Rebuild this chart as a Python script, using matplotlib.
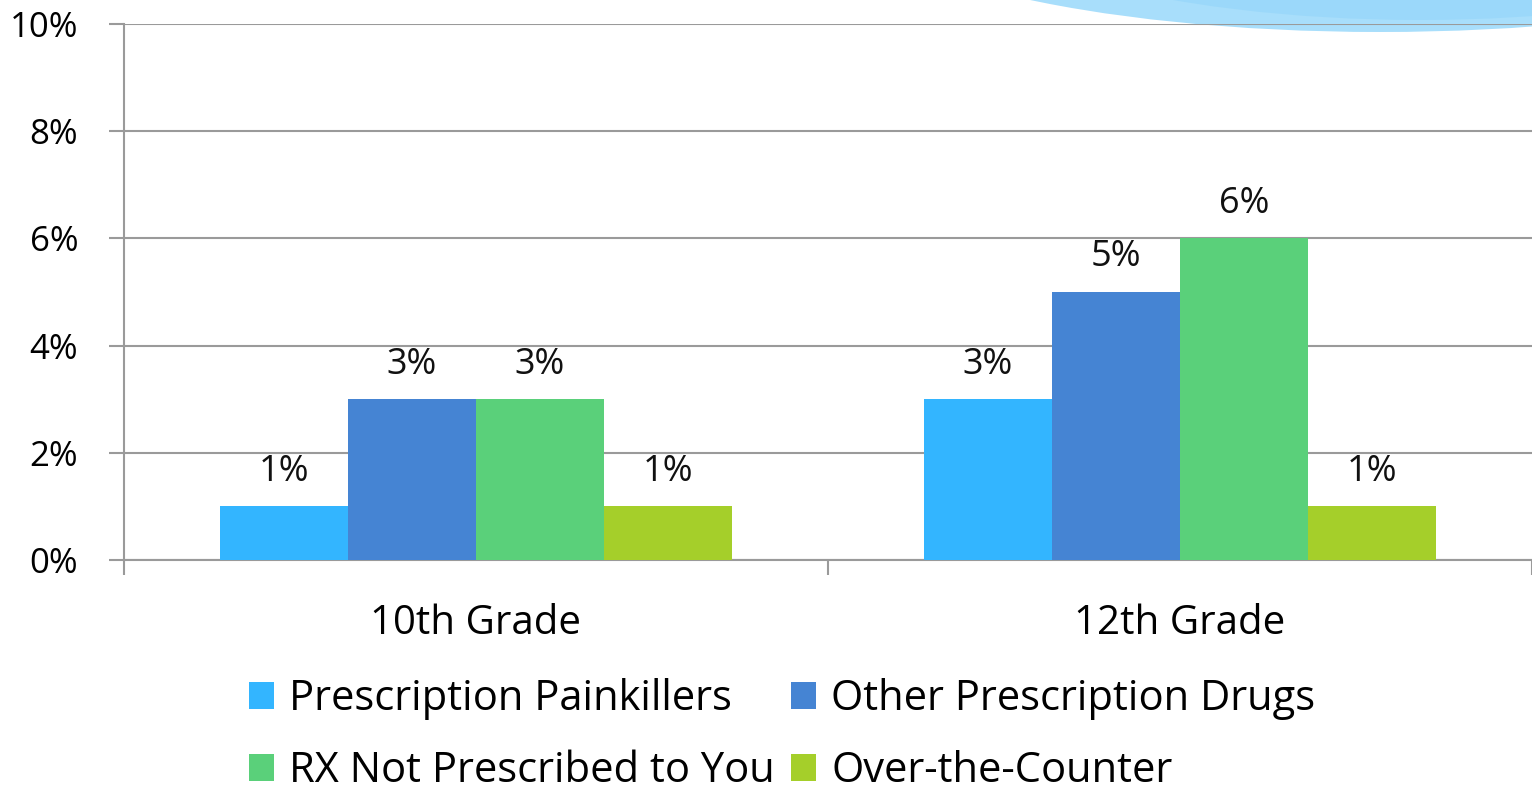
import matplotlib
matplotlib.use("Agg")
import matplotlib.pyplot as plt
from matplotlib.patches import Ellipse
import numpy as np

categories = ["10th Grade", "12th Grade"]
series_names = ["Prescription Painkillers", "Other Prescription Drugs",
                "RX Not Prescribed to You", "Over-the-Counter"]
painkillers = [1, 3]
other_rx = [3, 5]
rx_not_prescribed = [3, 6]
otc = [1, 1]
yticks = [0, 2, 4, 6, 8, 10]
ytick_labels = ["0%", "2%", "4%", "6%", "8%", "10%"]

colors = ["#33B5FF", "#4584D3", "#5AD07A", "#A5CF2A"]
values = [painkillers, other_rx, rx_not_prescribed, otc]

plt.rcParams['font.family'] = ['Open Sans', 'DejaVu Sans']

W, H = 1532, 795
fig = plt.figure(figsize=(W / 100, H / 100), dpi=100)
ax = fig.add_axes([124 / W, 1 - 560 / H, (1532 - 124) / W, (560 - 24) / H])
ax.set_facecolor("none")

# decorative swoosh (top-right)
sw = Ellipse((1380 / W, 1 + 100 / H), 2 * 536 / W, 2 * 132 / H,
             transform=fig.transFigure, facecolor="#A8DEFB", edgecolor="none", zorder=-2)
fig.patches.append(sw)
sw2 = Ellipse((1420 / W, 1 + 120 / H), 2 * 480 / W, 2 * 140 / H,
              transform=fig.transFigure, facecolor="#93D5FA", edgecolor="none", zorder=-1, alpha=0.6)
fig.patches.append(sw2)

x = np.arange(len(categories))
bw = 128 / 704
handles = []
for i, (vals, c, name) in enumerate(zip(values, colors, series_names)):
    pos = x + (i - 1.5) * bw
    bars = ax.bar(pos, vals, width=bw, color=c, label=name, zorder=3)
    handles.append(bars)
    for b, v in zip(bars, vals):
        ax.annotate(f"{v}%", (b.get_x() + b.get_width() / 2, v), xytext=(0, 12),
                    textcoords="offset points", ha="center", va="bottom",
                    fontsize=26, color="#111111")

ax.set_xlim(-0.5, 1.5)
ax.set_ylim(0, 10)
ax.set_yticks(yticks)
ax.set_yticklabels(ytick_labels, fontsize=25)
ax.yaxis.grid(True, color="#9A9A9A", linewidth=1.5, zorder=0)
ax.tick_params(axis="y", length=11, width=1.5, color="#9A9A9A", pad=22)

ax.set_xticks(x)
ax.set_xticklabels(categories, fontsize=29)
ax.tick_params(axis="x", which="major", length=0, pad=31)
ax.set_xticks([-0.5, 0.5, 1.5], minor=True)
ax.tick_params(axis="x", which="minor", length=11, width=1.5, color="#9A9A9A")

for s in ["top", "right"]:
    ax.spines[s].set_visible(False)
for s in ["left", "bottom"]:
    ax.spines[s].set_color("#9A9A9A")
    ax.spines[s].set_linewidth(1.5)

order = [0, 2, 1, 3]
fig.legend([handles[k] for k in order], [series_names[k] for k in order],
           loc="center", bbox_to_anchor=(782 / W, 1 - 735 / H), ncol=2,
           frameon=False, fontsize=30, handlelength=0.6, handleheight=0.6,
           handletextpad=0.36, columnspacing=0.4, labelspacing=0.72,
           borderpad=0.05)

fig.savefig("out.png", dpi=100)
